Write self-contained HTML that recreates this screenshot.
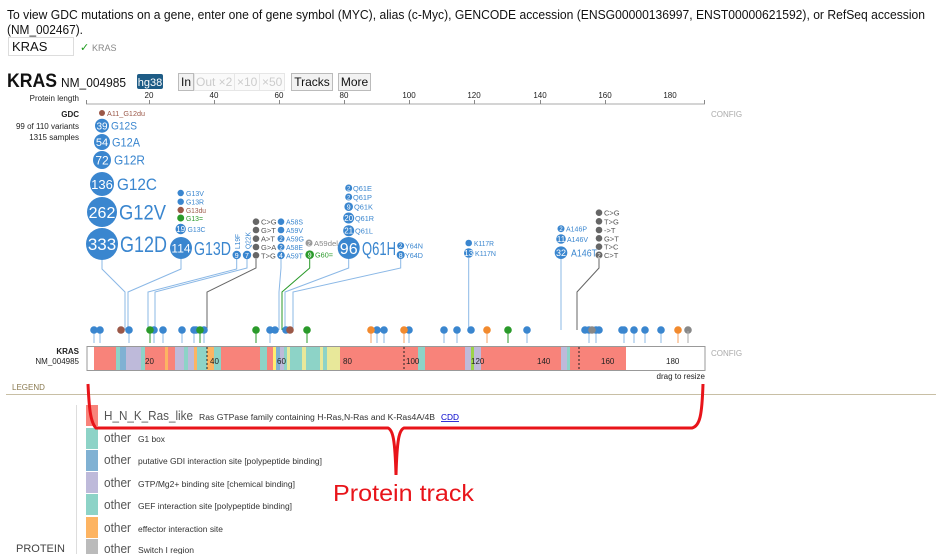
<!DOCTYPE html>
<html><head><meta charset="utf-8"><style>
body{margin:0;background:#fff;width:936px;height:554px;overflow:hidden;font-family:"Liberation Sans",sans-serif}
svg text{font-family:"Liberation Sans",sans-serif}
</style></head><body>
<svg width="936" height="554" xmlns="http://www.w3.org/2000/svg">
<text x="7" y="19" font-size="13" fill="#111" textLength="918" lengthAdjust="spacingAndGlyphs">To view GDC mutations on a gene, enter one of gene symbol (MYC), alias (c-Myc), GENCODE accession (ENSG00000136997, ENST00000621592), or RefSeq accession</text>
<text x="7" y="34" font-size="13" fill="#111" textLength="76" lengthAdjust="spacingAndGlyphs">(NM_002467).</text>
<rect x="8.5" y="37.5" width="65" height="18" fill="#fff" stroke="#ddd"/>
<text x="12" y="51" font-size="13" fill="#111">KRAS</text>
<text x="80" y="51" font-size="11" fill="#1a9a1a">✓</text>
<text x="92" y="51" font-size="9" fill="#888">KRAS</text>

<text x="7" y="87" font-size="19" font-weight="bold" fill="#111" textLength="50" lengthAdjust="spacingAndGlyphs">KRAS</text>
<text x="61" y="87" font-size="13" fill="#111" textLength="65" lengthAdjust="spacingAndGlyphs">NM_004985</text>
<rect x="137" y="74" width="26" height="15" rx="2" fill="#1e5c86"/>
<text x="150" y="86" font-size="11" fill="#fff" text-anchor="middle">hg38</text>
<rect x="178.5" y="73.5" width="15" height="17" fill="#f2f2f2" stroke="#bbb"/>
<text x="186" y="86" font-size="12" fill="#111" text-anchor="middle">In</text>
<rect x="194.5" y="73.5" width="40" height="17" fill="#fafafa" stroke="#e6e6e6"/>
<text x="196" y="86" font-size="12" fill="#ccc">Out ×2</text>
<rect x="234.5" y="73.5" width="25" height="17" fill="#fafafa" stroke="#e6e6e6"/>
<text x="237" y="86" font-size="12" fill="#ccc">×10</text>
<rect x="259.5" y="73.5" width="25" height="17" fill="#fafafa" stroke="#e6e6e6"/>
<text x="262" y="86" font-size="12" fill="#ccc">×50</text>
<rect x="291.5" y="73.5" width="41" height="17" fill="#f2f2f2" stroke="#bbb"/>
<text x="312" y="86" font-size="12" fill="#111" text-anchor="middle">Tracks</text>
<rect x="338.5" y="73.5" width="32" height="17" fill="#f2f2f2" stroke="#bbb"/>
<text x="354.5" y="86" font-size="12" fill="#111" text-anchor="middle">More</text>

<text x="79" y="101" font-size="8" fill="#222" text-anchor="end">Protein length</text>
<line x1="86" y1="104" x2="705" y2="104" stroke="#aaa"/>
<g stroke="#888"><line x1="86.5" y1="100" x2="86.5" y2="104"/><line x1="149.5" y1="100" x2="149.5" y2="104"/><line x1="214.5" y1="100" x2="214.5" y2="104"/><line x1="279.5" y1="100" x2="279.5" y2="104"/><line x1="344.5" y1="100" x2="344.5" y2="104"/><line x1="409.5" y1="100" x2="409.5" y2="104"/><line x1="474.5" y1="100" x2="474.5" y2="104"/><line x1="540.5" y1="100" x2="540.5" y2="104"/><line x1="605.5" y1="100" x2="605.5" y2="104"/><line x1="704.5" y1="100" x2="704.5" y2="104"/></g>
<g font-size="8" fill="#222" text-anchor="middle"><text x="149" y="98">20</text><text x="214" y="98">40</text><text x="279" y="98">60</text><text x="344" y="98">80</text><text x="409" y="98">100</text><text x="474" y="98">120</text><text x="540" y="98">140</text><text x="605" y="98">160</text><text x="670" y="98">180</text></g>

<g font-size="8" fill="#222" text-anchor="end"><text x="79" y="117" font-weight="bold">GDC</text><text x="79" y="129">99 of 110 variants</text><text x="79" y="140">1315 samples</text></g>
<text x="711" y="117" font-size="8" fill="#aaa">CONFIG</text>

<g fill="none" stroke="#8bb8e6" stroke-width="1">
<polyline points="102,260 102,269 125,292 125,330"/>
<polyline points="181,259 181,269 128,292 128,330"/>
<polyline points="236.7,259 236.7,269 148,292 148,330"/>
<polyline points="247,259 247,268 155,292 155,330"/>
<polyline points="281,259 281,268 279,292 279,330"/>
<polyline points="348.7,259 348.7,268 285,292 285,330"/>
<polyline points="400.7,259 400.7,268 293,292 293,330"/>
<polyline points="468.7,258 468.7,330"/>
<polyline points="561,259 561,330"/>
</g>
<polyline points="256,259 256,268 207,292 207,330" fill="none" stroke="#666"/>
<polyline points="599,259 599,268 577,292 577,330" fill="none" stroke="#666"/>
<polyline points="309.7,259 309.7,268 282,292 282,330" fill="none" stroke="#2a9a2a"/>

<g fill="#3a86cf">
<circle cx="102" cy="125.7" r="7"/><circle cx="102" cy="142" r="8"/><circle cx="102" cy="160" r="9"/><circle cx="102" cy="184" r="12"/><circle cx="102" cy="212" r="15"/><circle cx="102" cy="244" r="16"/>
<circle cx="181" cy="248" r="11"/>
<circle cx="180.7" cy="193" r="3.2"/><circle cx="180.7" cy="201.7" r="3.2"/><circle cx="180.7" cy="229" r="5.2"/>
<circle cx="236.7" cy="255" r="4.2"/><circle cx="247" cy="255" r="4.2"/>
<circle cx="281" cy="221.7" r="3.3"/><circle cx="281" cy="230" r="3.3"/><circle cx="281" cy="238.7" r="3.5"/><circle cx="281" cy="247" r="3.5"/><circle cx="281" cy="255.3" r="3.8"/>
<circle cx="348.7" cy="248" r="11"/><circle cx="348.7" cy="188" r="3.5"/><circle cx="348.7" cy="197" r="3.5"/><circle cx="348.7" cy="206.7" r="4.3"/><circle cx="348.7" cy="218" r="5.5"/><circle cx="348.7" cy="230.7" r="5.5"/>
<circle cx="400.7" cy="245.7" r="3.5"/><circle cx="400.7" cy="255" r="4"/>
<circle cx="468.7" cy="243" r="3.3"/><circle cx="468.7" cy="253" r="4.7"/>
<circle cx="561" cy="228.7" r="3.5"/><circle cx="561" cy="239" r="4.8"/><circle cx="561" cy="252.7" r="6.3"/>
</g>
<g fill="#9b5848"><circle cx="102" cy="113" r="3"/><circle cx="180.7" cy="210" r="3.2"/></g>
<g fill="#2a9a2a"><circle cx="180.7" cy="218" r="3.5"/><circle cx="309.7" cy="254.7" r="4.3"/></g>
<g fill="#666"><circle cx="256" cy="221.7" r="3.3"/><circle cx="256" cy="230" r="3.3"/><circle cx="256" cy="238.7" r="3.3"/><circle cx="256" cy="247" r="3.3"/><circle cx="256" cy="255.3" r="3.3"/>
<circle cx="599" cy="212.7" r="3.3"/><circle cx="599" cy="221.3" r="3.3"/><circle cx="599" cy="230" r="3.3"/><circle cx="599" cy="238.3" r="3.3"/><circle cx="599" cy="246.7" r="3.3"/><circle cx="599" cy="255" r="3.5"/></g>
<circle cx="309" cy="243" r="3.5" fill="#999"/>

<g fill="#fff" text-anchor="middle">
<text x="102" y="129.5" font-size="10">39</text><text x="102" y="146" font-size="11">54</text><text x="102" y="164.5" font-size="12">72</text><text x="102" y="189" font-size="13">136</text><text x="102" y="218" font-size="16">262</text><text x="102" y="250" font-size="17">333</text>
<text x="181" y="252.5" font-size="12">114</text><text x="180.7" y="232" font-size="8">19</text>
<text x="236.7" y="258" font-size="7">9</text><text x="247" y="258" font-size="7">7</text>
<text x="281" y="241" font-size="6">2</text><text x="281" y="249.5" font-size="6">2</text><text x="281" y="258" font-size="7">4</text>
<text x="309.7" y="257.5" font-size="7">9</text>
<text x="348.7" y="254" font-size="16">96</text><text x="348.7" y="209.5" font-size="7">9</text><text x="348.7" y="221" font-size="8">20</text><text x="348.7" y="233.7" font-size="8">21</text><text x="348.7" y="190.5" font-size="6">2</text><text x="348.7" y="199.5" font-size="6">2</text>
<text x="400.7" y="248" font-size="6">2</text><text x="400.7" y="258" font-size="7">8</text>
<text x="468.7" y="256" font-size="8">13</text><text x="561" y="231" font-size="6">2</text><text x="561" y="242" font-size="8">11</text><text x="561" y="256" font-size="9">32</text>
<text x="599" y="257.5" font-size="6">2</text><text x="309" y="245.5" font-size="6">2</text>
</g>

<g fill="#3a86cf" lengthAdjust="spacingAndGlyphs">
<text x="111" y="129.5" font-size="11" textLength="26" lengthAdjust="spacingAndGlyphs">G12S</text><text x="112" y="146.5" font-size="12" textLength="28" lengthAdjust="spacingAndGlyphs">G12A</text><text x="114" y="164.5" font-size="13" textLength="31" lengthAdjust="spacingAndGlyphs">G12R</text><text x="117" y="190" font-size="17" textLength="40" lengthAdjust="spacingAndGlyphs">G12C</text><text x="119" y="219.5" font-size="21" textLength="47" lengthAdjust="spacingAndGlyphs">G12V</text><text x="120" y="252" font-size="22" textLength="47" lengthAdjust="spacingAndGlyphs">G12D</text>
<text x="194" y="255" font-size="18" textLength="37" lengthAdjust="spacingAndGlyphs">G13D</text>
<g font-size="7.5">
<text x="186" y="196" textLength="18" lengthAdjust="spacingAndGlyphs">G13V</text><text x="186" y="204.7" textLength="18" lengthAdjust="spacingAndGlyphs">G13R</text><text x="187.5" y="232" textLength="18" lengthAdjust="spacingAndGlyphs">G13C</text>
<text transform="translate(240,249) rotate(-90)" textLength="15" lengthAdjust="spacingAndGlyphs">L19F</text><text transform="translate(250.5,249) rotate(-90)" textLength="17" lengthAdjust="spacingAndGlyphs">Q22K</text>
<text x="286" y="224.7" textLength="17" lengthAdjust="spacingAndGlyphs">A58S</text><text x="286" y="233" textLength="17" lengthAdjust="spacingAndGlyphs">A59V</text><text x="286" y="241.7" textLength="18" lengthAdjust="spacingAndGlyphs">A59G</text><text x="286" y="250" textLength="17" lengthAdjust="spacingAndGlyphs">A58E</text><text x="286" y="258.3" textLength="17" lengthAdjust="spacingAndGlyphs">A59T</text>
<text x="353" y="191" textLength="19" lengthAdjust="spacingAndGlyphs">Q61E</text><text x="353" y="200" textLength="19" lengthAdjust="spacingAndGlyphs">Q61P</text><text x="354" y="209.7" textLength="19" lengthAdjust="spacingAndGlyphs">Q61K</text><text x="355" y="221" textLength="19" lengthAdjust="spacingAndGlyphs">Q61R</text><text x="355" y="233.7" textLength="18" lengthAdjust="spacingAndGlyphs">Q61L</text>
<text x="405" y="248.7" textLength="18" lengthAdjust="spacingAndGlyphs">Y64N</text><text x="405" y="258" textLength="18" lengthAdjust="spacingAndGlyphs">Y64D</text>
<text x="474" y="246" textLength="20" lengthAdjust="spacingAndGlyphs">K117R</text><text x="475" y="256" textLength="21" lengthAdjust="spacingAndGlyphs">K117N</text>
<text x="566" y="231.7" textLength="21" lengthAdjust="spacingAndGlyphs">A146P</text><text x="567" y="242" textLength="21" lengthAdjust="spacingAndGlyphs">A146V</text>
</g>
<text x="362" y="255" font-size="18" textLength="34" lengthAdjust="spacingAndGlyphs">Q61H</text>
<text x="571" y="256.5" font-size="10" textLength="26" lengthAdjust="spacingAndGlyphs">A146T</text>
</g>
<g fill="#9b5848" font-size="7.5"><text x="107" y="116" textLength="38" lengthAdjust="spacingAndGlyphs">A11_G12du</text><text x="186" y="213" textLength="20" lengthAdjust="spacingAndGlyphs">G13du</text></g>
<g fill="#2a9a2a" font-size="7.5"><text x="186" y="221" textLength="17" lengthAdjust="spacingAndGlyphs">G13=</text><text x="315" y="257.7" textLength="18" lengthAdjust="spacingAndGlyphs">G60=</text></g>
<g fill="#555" font-size="7.5"><text x="261" y="224.7">C&gt;G</text><text x="261" y="233">G&gt;T</text><text x="261" y="241.7">A&gt;T</text><text x="261" y="250">G&gt;A</text><text x="261" y="258.3">T&gt;G</text>
<text x="604" y="215.7">C&gt;G</text><text x="604" y="224.3">T&gt;G</text><text x="604" y="233">-&gt;T</text><text x="604" y="241.3">G&gt;T</text><text x="604" y="249.7">T&gt;C</text><text x="604" y="258">C&gt;T</text></g>
<text x="314" y="246" font-size="7.5" fill="#888" textLength="24" lengthAdjust="spacingAndGlyphs">A59del</text>

<g>
<g stroke="#8bb8e6"><line x1="94" y1="331" x2="94" y2="343"/><line x1="100" y1="331" x2="100" y2="343"/><line x1="129" y1="331" x2="129" y2="343"/><line x1="154" y1="331" x2="154" y2="343"/><line x1="163" y1="331" x2="163" y2="343"/><line x1="182" y1="331" x2="182" y2="343"/><line x1="194" y1="331" x2="194" y2="343"/><line x1="204" y1="331" x2="204" y2="343"/><line x1="270" y1="331" x2="270" y2="343"/><line x1="377" y1="331" x2="377" y2="343"/><line x1="384" y1="331" x2="384" y2="343"/><line x1="409" y1="331" x2="409" y2="343"/><line x1="444" y1="331" x2="444" y2="343"/><line x1="457" y1="331" x2="457" y2="343"/><line x1="527" y1="331" x2="527" y2="343"/><line x1="589" y1="331" x2="589" y2="343"/><line x1="596" y1="331" x2="596" y2="343"/><line x1="624" y1="331" x2="624" y2="343"/><line x1="634" y1="331" x2="634" y2="343"/><line x1="645" y1="331" x2="645" y2="343"/><line x1="661" y1="331" x2="661" y2="343"/></g>
<g fill="#3a86cf"><circle cx="94" cy="330" r="3.8"/><circle cx="100" cy="330" r="3.8"/><circle cx="129" cy="330" r="3.8"/><circle cx="154" cy="330" r="3.8"/><circle cx="163" cy="330" r="3.8"/><circle cx="182" cy="330" r="3.8"/><circle cx="194" cy="330" r="3.8"/><circle cx="196" cy="330" r="3.8"/><circle cx="204" cy="330" r="3.8"/><circle cx="270" cy="330" r="3.8"/><circle cx="275" cy="330" r="3.8"/><circle cx="286" cy="330" r="3.8"/><circle cx="377" cy="330" r="3.8"/><circle cx="384" cy="330" r="3.8"/><circle cx="409" cy="330" r="3.8"/><circle cx="444" cy="330" r="3.8"/><circle cx="457" cy="330" r="3.8"/><circle cx="471" cy="330" r="3.8"/><circle cx="527" cy="330" r="3.8"/><circle cx="585" cy="330" r="3.8"/><circle cx="589" cy="330" r="3.8"/><circle cx="596" cy="330" r="3.8"/><circle cx="599" cy="330" r="3.8"/><circle cx="622" cy="330" r="3.8"/><circle cx="624" cy="330" r="3.8"/><circle cx="634" cy="330" r="3.8"/><circle cx="645" cy="330" r="3.8"/><circle cx="661" cy="330" r="3.8"/></g>
<g fill="#9b5848"><circle cx="121" cy="330" r="3.8"/><circle cx="290" cy="330" r="3.8"/></g>
<g stroke="#2a9a2a"><line x1="150" y1="331" x2="150" y2="343"/><line x1="200" y1="331" x2="200" y2="343"/><line x1="256" y1="331" x2="256" y2="343"/><line x1="307" y1="331" x2="307" y2="343"/><line x1="508" y1="331" x2="508" y2="343"/></g>
<g fill="#2a9a2a"><circle cx="150" cy="330" r="3.8"/><circle cx="200" cy="330" r="3.8"/><circle cx="256" cy="330" r="3.8"/><circle cx="307" cy="330" r="3.8"/><circle cx="508" cy="330" r="3.8"/></g>
<g stroke="#f7a060"><line x1="371" y1="331" x2="371" y2="343"/><line x1="404" y1="331" x2="404" y2="343"/><line x1="487" y1="331" x2="487" y2="343"/><line x1="678" y1="331" x2="678" y2="343"/></g>
<g fill="#f28a2e"><circle cx="371" cy="330" r="3.8"/><circle cx="404" cy="330" r="3.8"/><circle cx="487" cy="330" r="3.8"/><circle cx="678" cy="330" r="3.8"/></g>
<g fill="#888"><circle cx="592" cy="330" r="3.8"/><circle cx="688" cy="330" r="3.8"/></g>
<line x1="688" y1="331" x2="688" y2="343" stroke="#aaa"/>
</g>

<rect x="87" y="346.5" width="618" height="24" fill="#fff" stroke="#999"/>
<g transform="translate(0,347)">
<rect x="94" width="22" height="23" fill="#f8837a"/><rect x="116" width="4" height="23" fill="#8dd3c7"/><rect x="120" width="6" height="23" fill="#80b1d3"/><rect x="126" width="15" height="23" fill="#bebada"/><rect x="141" width="4" height="23" fill="#8dd3c7"/><rect x="145" width="20" height="23" fill="#f8837a"/><rect x="165" width="3" height="23" fill="#fdb462"/><rect x="168" width="7" height="23" fill="#f8837a"/><rect x="175" width="9" height="23" fill="#bebada"/><rect x="184" width="4" height="23" fill="#8dd3c7"/><rect x="188" width="6" height="23" fill="#bebada"/><rect x="194" width="3" height="23" fill="#fdb462"/><rect x="197" width="10" height="23" fill="#8dd3c7"/><rect x="207" width="7" height="23" fill="#fdb462"/><rect x="214" width="7" height="23" fill="#8dd3c7"/><rect x="221" width="39" height="23" fill="#f8837a"/>
<rect x="260" width="7" height="23" fill="#8dd3c7"/><rect x="267" width="6" height="23" fill="#f8837a"/><rect x="273" width="3" height="23" fill="#ffed6f"/><rect x="276" width="4" height="23" fill="#80b1d3"/><rect x="280" width="4" height="23" fill="#bebada"/><rect x="284" width="3" height="23" fill="#8dd3c7"/><rect x="287" width="3" height="23" fill="#e8e89a"/><rect x="290" width="12" height="23" fill="#8dd3c7"/><rect x="302" width="4" height="23" fill="#e8e89a"/><rect x="306" width="14" height="23" fill="#8dd3c7"/><rect x="320" width="3" height="23" fill="#e8e89a"/><rect x="323" width="4" height="23" fill="#8dd3c7"/><rect x="327" width="13" height="23" fill="#e8e89a"/><rect x="340" width="78" height="23" fill="#f8837a"/><rect x="418" width="7" height="23" fill="#8dd3c7"/><rect x="425" width="40" height="23" fill="#f8837a"/><rect x="465" width="6" height="23" fill="#bebada"/><rect x="471" width="3" height="23" fill="#9cd34a"/><rect x="474" width="7" height="23" fill="#bebada"/><rect x="481" width="80" height="23" fill="#f8837a"/><rect x="561" width="6" height="23" fill="#bebada"/><rect x="567" width="3" height="23" fill="#8dd3c7"/><rect x="570" width="56" height="23" fill="#f8837a"/>
<line x1="207" y1="0" x2="207" y2="23" stroke="#222" stroke-dasharray="2,2"/><line x1="404" y1="0" x2="404" y2="23" stroke="#222" stroke-dasharray="2,2"/><line x1="579" y1="0" x2="579" y2="23" stroke="#222" stroke-dasharray="2,2"/>
<g font-size="8" fill="#222"><text x="145" y="17">20</text><text x="210" y="17">40</text><text x="277" y="17">60</text><text x="343" y="17">80</text><text x="406" y="17">100</text><text x="471" y="17">120</text><text x="537" y="17">140</text><text x="601" y="17">160</text><text x="666" y="17">180</text></g>
</g>
<text x="79" y="354" font-size="8" font-weight="bold" fill="#222" text-anchor="end">KRAS</text>
<text x="79" y="364" font-size="8" fill="#222" text-anchor="end">NM_004985</text>
<text x="711" y="356" font-size="8" fill="#aaa">CONFIG</text>
<text x="705" y="379" font-size="8" fill="#222" text-anchor="end">drag to resize</text>

<text x="12" y="390" font-size="8" fill="#8a7a50">LEGEND</text>
<line x1="6" y1="394.5" x2="936" y2="394.5" stroke="#c8bfa5"/>
<line x1="76.5" y1="405" x2="76.5" y2="554" stroke="#ddd"/>
<text x="16" y="552" font-size="11" fill="#444">PROTEIN</text>
<g font-size="8" fill="#333">
<rect x="86" y="405" width="12" height="21" fill="#f8837a"/><text x="104" y="420" font-size="13" fill="#555" textLength="89" lengthAdjust="spacingAndGlyphs">H_N_K_Ras_like</text><text x="199" y="420" textLength="236" lengthAdjust="spacingAndGlyphs">Ras GTPase family containing H-Ras,N-Ras and K-Ras4A/4B</text><text x="441" y="420" fill="#00c" text-decoration="underline" textLength="18" lengthAdjust="spacingAndGlyphs">CDD</text>
<rect x="86" y="428" width="12" height="21" fill="#8dd3c7"/><text x="104" y="442" font-size="13" fill="#555" textLength="27" lengthAdjust="spacingAndGlyphs">other</text><text x="138" y="442" textLength="27" lengthAdjust="spacingAndGlyphs">G1 box</text>
<rect x="86" y="450" width="12" height="21" fill="#80b1d3"/><text x="104" y="464" font-size="13" fill="#555" textLength="27" lengthAdjust="spacingAndGlyphs">other</text><text x="138" y="464" textLength="184" lengthAdjust="spacingAndGlyphs">putative GDI interaction site [polypeptide binding]</text>
<rect x="86" y="472" width="12" height="21" fill="#bebada"/><text x="104" y="487" font-size="13" fill="#555" textLength="27" lengthAdjust="spacingAndGlyphs">other</text><text x="138" y="487" textLength="157" lengthAdjust="spacingAndGlyphs">GTP/Mg2+ binding site [chemical binding]</text>
<rect x="86" y="494" width="12" height="21" fill="#8dd3c7"/><text x="104" y="509" font-size="13" fill="#555" textLength="27" lengthAdjust="spacingAndGlyphs">other</text><text x="138" y="509" textLength="154" lengthAdjust="spacingAndGlyphs">GEF interaction site [polypeptide binding]</text>
<rect x="86" y="517" width="12" height="21" fill="#fdb462"/><text x="104" y="532" font-size="13" fill="#555" textLength="27" lengthAdjust="spacingAndGlyphs">other</text><text x="138" y="532" textLength="85" lengthAdjust="spacingAndGlyphs">effector interaction site</text>
<rect x="86" y="539" width="12" height="21" fill="#bbb"/><text x="104" y="553" font-size="13" fill="#555" textLength="27" lengthAdjust="spacingAndGlyphs">other</text><text x="138" y="553" textLength="56" lengthAdjust="spacingAndGlyphs">Switch I region</text>
</g>

<path d="M88,384 C89,405 90,422 96,428 L388,428 C393,430 395,440 396,475 C397,440 399,430 404,428 L692,428 C700,426 702,415 703,384" fill="none" stroke="#e8141a" stroke-width="3"/>
<text x="333" y="501" font-size="23" fill="#e8141a" textLength="141" lengthAdjust="spacingAndGlyphs">Protein track</text>
</svg>
</body></html>
